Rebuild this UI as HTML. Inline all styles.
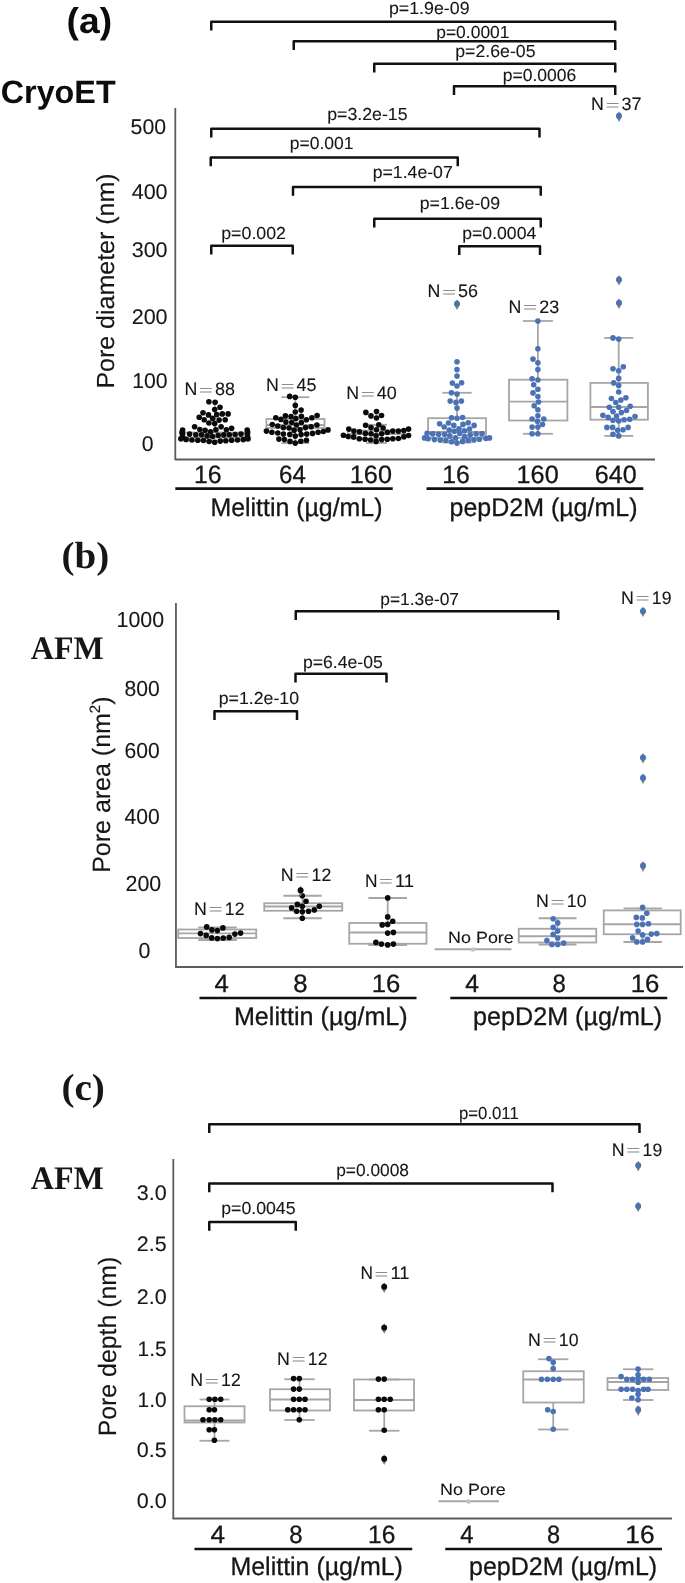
<!DOCTYPE html>
<html lang="en"><head><meta charset="utf-8"><title>Pore statistics</title>
<style>
html,body{margin:0;padding:0;background:#fff;}
body{width:685px;height:1583px;overflow:hidden;}
svg{display:block;will-change:transform;}
text{text-rendering:geometricPrecision;}
</style></head><body>
<svg width="685" height="1583" viewBox="0 0 685 1583">
<rect width="685" height="1583" fill="#fff"/>
<g id="panel-a">
<text x="66.64" y="32.80" font-family='"Liberation Sans", sans-serif' font-size="35.8" font-weight="bold" fill="#0c0c0c" textLength="45.51" lengthAdjust="spacingAndGlyphs">(a)</text>
<text x="0.74" y="103.40" font-family='"Liberation Sans", sans-serif' font-size="32.3" font-weight="bold" fill="#0c0c0c" textLength="114.88" lengthAdjust="spacingAndGlyphs">CryoET</text>
<line x1="175.30" y1="108.00" x2="175.30" y2="460.00" stroke="#5c5c5c" stroke-width="1.8"/>
<line x1="175.00" y1="459.50" x2="655.00" y2="459.50" stroke="#5c5c5c" stroke-width="1.8"/>
<text x="130.57" y="134.40" font-family='"Liberation Sans", sans-serif' font-size="21.3" fill="#161616" stroke="#161616" stroke-width="0.1" textLength="35.54" lengthAdjust="spacingAndGlyphs">500</text>
<text x="131.67" y="198.80" font-family='"Liberation Sans", sans-serif' font-size="21.3" fill="#161616" stroke="#161616" stroke-width="0.1" textLength="35.94" lengthAdjust="spacingAndGlyphs">400</text>
<text x="131.67" y="256.50" font-family='"Liberation Sans", sans-serif' font-size="21.3" fill="#161616" stroke="#161616" stroke-width="0.1" textLength="35.94" lengthAdjust="spacingAndGlyphs">300</text>
<text x="131.67" y="323.70" font-family='"Liberation Sans", sans-serif' font-size="21.3" fill="#161616" stroke="#161616" stroke-width="0.1" textLength="35.94" lengthAdjust="spacingAndGlyphs">200</text>
<text x="132.21" y="387.80" font-family='"Liberation Sans", sans-serif' font-size="21.3" fill="#161616" stroke="#161616" stroke-width="0.1" textLength="35.41" lengthAdjust="spacingAndGlyphs">100</text>
<text x="141.67" y="451.20" font-family='"Liberation Sans", sans-serif' font-size="21.3" fill="#161616" stroke="#161616" stroke-width="0.1" textLength="11.84" lengthAdjust="spacingAndGlyphs">0</text>
<text transform="translate(113.6 388.6) rotate(-90)" font-family='"Liberation Sans", sans-serif' font-size="24.7" fill="#161616" stroke="#161616" stroke-width="0.15" textLength="215.2" lengthAdjust="spacingAndGlyphs">Pore diameter (nm)</text>
<path d="M211.25 30.50 V21.75 H615.25 V30.50" fill="none" stroke="#111" stroke-width="2.5" stroke-linejoin="round"/>
<path d="M293.75 50.00 V41.25 H615.25 V50.00" fill="none" stroke="#111" stroke-width="2.5" stroke-linejoin="round"/>
<path d="M374.25 72.50 V63.75 H615.25 V72.50" fill="none" stroke="#111" stroke-width="2.5" stroke-linejoin="round"/>
<path d="M454.00 95.00 V86.25 H615.25 V95.00" fill="none" stroke="#111" stroke-width="2.5" stroke-linejoin="round"/>
<path d="M211.25 137.50 V128.75 H539.50 V137.50" fill="none" stroke="#111" stroke-width="2.5" stroke-linejoin="round"/>
<path d="M210.75 166.25 V157.50 H457.75 V166.25" fill="none" stroke="#111" stroke-width="2.5" stroke-linejoin="round"/>
<path d="M293.00 195.75 V187.00 H540.75 V195.75" fill="none" stroke="#111" stroke-width="2.5" stroke-linejoin="round"/>
<path d="M374.25 227.50 V218.75 H540.75 V227.50" fill="none" stroke="#111" stroke-width="2.5" stroke-linejoin="round"/>
<path d="M211.25 254.50 V245.75 H292.75 V254.50" fill="none" stroke="#111" stroke-width="2.5" stroke-linejoin="round"/>
<path d="M459.25 255.00 V246.25 H540.00 V255.00" fill="none" stroke="#111" stroke-width="2.5" stroke-linejoin="round"/>
<text x="388.97" y="13.75" font-family='"Liberation Sans", sans-serif' font-size="17.4" fill="#161616" stroke="#161616" stroke-width="0.1" textLength="80.55" lengthAdjust="spacingAndGlyphs">p=1.9e-09</text>
<text x="436.22" y="37.50" font-family='"Liberation Sans", sans-serif' font-size="17.4" fill="#161616" stroke="#161616" stroke-width="0.1" textLength="73.30" lengthAdjust="spacingAndGlyphs">p=0.0001</text>
<text x="455.22" y="57.00" font-family='"Liberation Sans", sans-serif' font-size="17.4" fill="#161616" stroke="#161616" stroke-width="0.1" textLength="80.30" lengthAdjust="spacingAndGlyphs">p=2.6e-05</text>
<text x="502.72" y="81.00" font-family='"Liberation Sans", sans-serif' font-size="17.4" fill="#161616" stroke="#161616" stroke-width="0.1" textLength="73.55" lengthAdjust="spacingAndGlyphs">p=0.0006</text>
<text x="327.22" y="119.50" font-family='"Liberation Sans", sans-serif' font-size="17.4" fill="#161616" stroke="#161616" stroke-width="0.1" textLength="80.30" lengthAdjust="spacingAndGlyphs">p=3.2e-15</text>
<text x="289.72" y="148.75" font-family='"Liberation Sans", sans-serif' font-size="17.4" fill="#161616" stroke="#161616" stroke-width="0.1" textLength="63.80" lengthAdjust="spacingAndGlyphs">p=0.001</text>
<text x="372.72" y="177.50" font-family='"Liberation Sans", sans-serif' font-size="17.4" fill="#161616" stroke="#161616" stroke-width="0.1" textLength="80.05" lengthAdjust="spacingAndGlyphs">p=1.4e-07</text>
<text x="419.72" y="208.75" font-family='"Liberation Sans", sans-serif' font-size="17.4" fill="#161616" stroke="#161616" stroke-width="0.1" textLength="80.30" lengthAdjust="spacingAndGlyphs">p=1.6e-09</text>
<text x="221.22" y="238.75" font-family='"Liberation Sans", sans-serif' font-size="17.4" fill="#161616" stroke="#161616" stroke-width="0.1" textLength="64.80" lengthAdjust="spacingAndGlyphs">p=0.002</text>
<text x="462.22" y="238.75" font-family='"Liberation Sans", sans-serif' font-size="17.4" fill="#161616" stroke="#161616" stroke-width="0.1" textLength="74.05" lengthAdjust="spacingAndGlyphs">p=0.0004</text>
<g stroke="#a6a6a6" stroke-width="1.8" fill="none">
<line x1="215.00" y1="403.00" x2="215.00" y2="432.50"/>
<line x1="215.00" y1="440.50" x2="215.00" y2="443.00"/>
<line x1="215.00" y1="403.00" x2="215.00" y2="403.00"/>
<line x1="215.00" y1="443.00" x2="215.00" y2="443.00"/>
<rect x="180.50" y="432.50" width="69.00" height="8.00"/>
<line x1="180.50" y1="437.50" x2="249.50" y2="437.50"/>
</g>
<g stroke="#a6a6a6" stroke-width="1.8" fill="none">
<line x1="295.30" y1="397.20" x2="295.30" y2="419.00"/>
<line x1="295.30" y1="428.00" x2="295.30" y2="443.00"/>
<line x1="281.30" y1="397.20" x2="309.30" y2="397.20"/>
<line x1="281.30" y1="443.00" x2="309.30" y2="443.00"/>
<rect x="266.40" y="419.00" width="58.10" height="9.00"/>
<line x1="266.40" y1="425.00" x2="324.50" y2="425.00"/>
</g>
<g stroke="#a6a6a6" stroke-width="1.8" fill="none">
<line x1="376.50" y1="424.80" x2="376.50" y2="430.50"/>
<line x1="376.50" y1="438.50" x2="376.50" y2="443.00"/>
<line x1="366.00" y1="424.80" x2="387.00" y2="424.80"/>
<line x1="366.00" y1="443.00" x2="387.00" y2="443.00"/>
<rect x="348.00" y="430.50" width="57.00" height="8.00"/>
<line x1="348.00" y1="434.00" x2="405.00" y2="434.00"/>
</g>
<g stroke="#a6a6a6" stroke-width="1.8" fill="none">
<line x1="457.00" y1="392.80" x2="457.00" y2="418.20"/>
<line x1="457.00" y1="438.00" x2="457.00" y2="442.50"/>
<line x1="442.30" y1="392.80" x2="471.70" y2="392.80"/>
<line x1="442.30" y1="442.50" x2="471.70" y2="442.50"/>
<rect x="428.10" y="418.20" width="57.90" height="19.80"/>
<line x1="428.10" y1="432.00" x2="486.00" y2="432.00"/>
</g>
<g stroke="#a6a6a6" stroke-width="1.8" fill="none">
<line x1="537.90" y1="321.00" x2="537.90" y2="379.70"/>
<line x1="537.90" y1="420.50" x2="537.90" y2="433.80"/>
<line x1="522.90" y1="321.00" x2="552.90" y2="321.00"/>
<line x1="522.90" y1="433.80" x2="552.90" y2="433.80"/>
<rect x="509.00" y="379.70" width="58.40" height="40.80"/>
<line x1="509.00" y1="401.70" x2="567.40" y2="401.70"/>
</g>
<g stroke="#a6a6a6" stroke-width="1.8" fill="none">
<line x1="618.70" y1="337.90" x2="618.70" y2="382.90"/>
<line x1="618.70" y1="419.70" x2="618.70" y2="435.90"/>
<line x1="604.20" y1="337.90" x2="633.20" y2="337.90"/>
<line x1="604.20" y1="435.90" x2="633.20" y2="435.90"/>
<rect x="590.40" y="382.90" width="57.50" height="36.80"/>
<line x1="590.40" y1="407.00" x2="647.90" y2="407.00"/>
</g>
<g fill="#0a0a0a">
<circle cx="208.9" cy="401.8" r="2.8"/>
<circle cx="215.1" cy="402.2" r="2.8"/>
<circle cx="220.0" cy="407.3" r="2.8"/>
<circle cx="214.7" cy="409.6" r="2.8"/>
<circle cx="203.0" cy="412.8" r="2.8"/>
<circle cx="208.5" cy="414.9" r="2.8"/>
<circle cx="216.8" cy="414.6" r="2.8"/>
<circle cx="222.3" cy="413.9" r="2.8"/>
<circle cx="228.1" cy="413.9" r="2.8"/>
<circle cx="199.2" cy="417.2" r="2.8"/>
<circle cx="204.2" cy="419.8" r="2.8"/>
<circle cx="212.6" cy="418.4" r="2.8"/>
<circle cx="219.1" cy="420.1" r="2.8"/>
<circle cx="225.2" cy="419.8" r="2.8"/>
<circle cx="208.9" cy="423.0" r="2.8"/>
<circle cx="214.7" cy="423.6" r="2.8"/>
<circle cx="194.6" cy="426.8" r="2.8"/>
<circle cx="221.1" cy="426.8" r="2.8"/>
<circle cx="231.6" cy="428.3" r="2.8"/>
<circle cx="182.6" cy="430.0" r="2.8"/>
<circle cx="199.8" cy="429.5" r="2.8"/>
<circle cx="205.1" cy="430.3" r="2.8"/>
<circle cx="210.6" cy="431.8" r="2.8"/>
<circle cx="215.9" cy="429.8" r="2.8"/>
<circle cx="226.4" cy="429.8" r="2.8"/>
<circle cx="247.2" cy="430.0" r="2.8"/>
<circle cx="182.6" cy="434.1" r="2.8"/>
<circle cx="189.6" cy="434.1" r="2.8"/>
<circle cx="195.8" cy="434.7" r="2.8"/>
<circle cx="201.6" cy="434.7" r="2.8"/>
<circle cx="207.1" cy="435.9" r="2.8"/>
<circle cx="212.6" cy="436.5" r="2.8"/>
<circle cx="218.2" cy="435.3" r="2.8"/>
<circle cx="223.8" cy="434.9" r="2.8"/>
<circle cx="229.3" cy="434.7" r="2.8"/>
<circle cx="235.1" cy="434.5" r="2.8"/>
<circle cx="241.0" cy="434.1" r="2.8"/>
<circle cx="247.2" cy="434.1" r="2.8"/>
<circle cx="180.8" cy="438.8" r="2.8"/>
<circle cx="186.1" cy="439.4" r="2.8"/>
<circle cx="191.9" cy="440.0" r="2.8"/>
<circle cx="197.8" cy="440.3" r="2.8"/>
<circle cx="203.4" cy="440.5" r="2.8"/>
<circle cx="209.1" cy="441.5" r="2.8"/>
<circle cx="214.7" cy="442.3" r="2.8"/>
<circle cx="220.3" cy="441.1" r="2.8"/>
<circle cx="225.8" cy="440.8" r="2.8"/>
<circle cx="231.6" cy="440.3" r="2.8"/>
<circle cx="237.5" cy="440.0" r="2.8"/>
<circle cx="243.3" cy="439.6" r="2.8"/>
<circle cx="248.0" cy="438.8" r="2.8"/>
<circle cx="182.6" cy="437.3" r="2.8"/>
<circle cx="247.4" cy="437.0" r="2.8"/>
<circle cx="182.0" cy="432.4" r="2.8"/>
<circle cx="247.6" cy="432.1" r="2.8"/>
</g>
<g fill="#0a0a0a">
<circle cx="289.7" cy="396.4" r="2.8"/>
<circle cx="295.3" cy="397.2" r="2.8"/>
<circle cx="295.3" cy="405.4" r="2.8"/>
<circle cx="301.1" cy="410.1" r="2.8"/>
<circle cx="295.3" cy="412.0" r="2.8"/>
<circle cx="275.8" cy="417.8" r="2.8"/>
<circle cx="280.9" cy="419.4" r="2.8"/>
<circle cx="285.4" cy="415.9" r="2.8"/>
<circle cx="291.0" cy="416.6" r="2.8"/>
<circle cx="295.9" cy="418.6" r="2.8"/>
<circle cx="301.4" cy="416.3" r="2.8"/>
<circle cx="306.4" cy="419.8" r="2.8"/>
<circle cx="311.9" cy="417.8" r="2.8"/>
<circle cx="317.1" cy="415.5" r="2.8"/>
<circle cx="272.3" cy="424.5" r="2.8"/>
<circle cx="277.8" cy="426.0" r="2.8"/>
<circle cx="283.4" cy="427.6" r="2.8"/>
<circle cx="285.9" cy="422.1" r="2.8"/>
<circle cx="289.1" cy="428.0" r="2.8"/>
<circle cx="291.8" cy="422.5" r="2.8"/>
<circle cx="296.5" cy="425.0" r="2.8"/>
<circle cx="301.4" cy="422.5" r="2.8"/>
<circle cx="294.1" cy="430.3" r="2.8"/>
<circle cx="300.0" cy="429.7" r="2.8"/>
<circle cx="305.5" cy="427.6" r="2.8"/>
<circle cx="311.1" cy="426.8" r="2.8"/>
<circle cx="316.9" cy="425.0" r="2.8"/>
<circle cx="266.4" cy="431.1" r="2.8"/>
<circle cx="271.9" cy="432.3" r="2.8"/>
<circle cx="277.8" cy="433.0" r="2.8"/>
<circle cx="283.4" cy="434.1" r="2.8"/>
<circle cx="289.8" cy="434.4" r="2.8"/>
<circle cx="295.3" cy="436.1" r="2.8"/>
<circle cx="301.1" cy="434.6" r="2.8"/>
<circle cx="306.7" cy="434.1" r="2.8"/>
<circle cx="312.5" cy="433.4" r="2.8"/>
<circle cx="318.1" cy="432.3" r="2.8"/>
<circle cx="323.3" cy="431.5" r="2.8"/>
<circle cx="328.0" cy="429.9" r="2.8"/>
<circle cx="278.9" cy="439.1" r="2.8"/>
<circle cx="284.4" cy="439.6" r="2.8"/>
<circle cx="290.0" cy="441.4" r="2.8"/>
<circle cx="295.3" cy="443.1" r="2.8"/>
<circle cx="300.8" cy="441.2" r="2.8"/>
<circle cx="306.4" cy="440.2" r="2.8"/>
</g>
<g fill="#0a0a0a">
<circle cx="365.9" cy="412.4" r="2.8"/>
<circle cx="376.5" cy="411.6" r="2.8"/>
<circle cx="371.0" cy="415.9" r="2.8"/>
<circle cx="381.5" cy="415.5" r="2.8"/>
<circle cx="376.5" cy="418.0" r="2.8"/>
<circle cx="365.6" cy="425.3" r="2.8"/>
<circle cx="378.8" cy="424.8" r="2.8"/>
<circle cx="371.0" cy="427.6" r="2.8"/>
<circle cx="383.1" cy="428.0" r="2.8"/>
<circle cx="376.5" cy="429.7" r="2.8"/>
<circle cx="348.8" cy="429.1" r="2.8"/>
<circle cx="353.9" cy="431.1" r="2.8"/>
<circle cx="359.5" cy="431.8" r="2.8"/>
<circle cx="365.4" cy="433.4" r="2.8"/>
<circle cx="371.0" cy="433.8" r="2.8"/>
<circle cx="381.7" cy="433.8" r="2.8"/>
<circle cx="387.3" cy="432.3" r="2.8"/>
<circle cx="392.8" cy="431.1" r="2.8"/>
<circle cx="398.4" cy="431.1" r="2.8"/>
<circle cx="403.9" cy="430.6" r="2.8"/>
<circle cx="408.6" cy="429.1" r="2.8"/>
<circle cx="343.4" cy="435.3" r="2.8"/>
<circle cx="348.1" cy="436.5" r="2.8"/>
<circle cx="353.7" cy="436.9" r="2.8"/>
<circle cx="359.3" cy="438.8" r="2.8"/>
<circle cx="365.1" cy="439.3" r="2.8"/>
<circle cx="370.6" cy="440.0" r="2.8"/>
<circle cx="376.1" cy="441.4" r="2.8"/>
<circle cx="376.1" cy="435.8" r="2.8"/>
<circle cx="381.7" cy="439.6" r="2.8"/>
<circle cx="387.3" cy="439.3" r="2.8"/>
<circle cx="392.8" cy="438.8" r="2.8"/>
<circle cx="398.4" cy="438.5" r="2.8"/>
<circle cx="403.9" cy="436.7" r="2.8"/>
<circle cx="408.6" cy="435.5" r="2.8"/>
</g>
<g fill="#4a72b4">
<circle cx="457.0" cy="361.7" r="2.8"/>
<circle cx="457.0" cy="369.6" r="2.8"/>
<circle cx="457.0" cy="376.1" r="2.8"/>
<circle cx="452.4" cy="383.1" r="2.8"/>
<circle cx="461.6" cy="382.7" r="2.8"/>
<circle cx="457.0" cy="386.0" r="2.8"/>
<circle cx="451.5" cy="392.8" r="2.8"/>
<circle cx="457.0" cy="394.1" r="2.8"/>
<circle cx="450.2" cy="401.1" r="2.8"/>
<circle cx="461.4" cy="401.1" r="2.8"/>
<circle cx="456.0" cy="402.4" r="2.8"/>
<circle cx="457.0" cy="408.1" r="2.8"/>
<circle cx="451.5" cy="417.8" r="2.8"/>
<circle cx="457.0" cy="418.2" r="2.8"/>
<circle cx="462.6" cy="417.5" r="2.8"/>
<circle cx="439.6" cy="423.7" r="2.8"/>
<circle cx="448.5" cy="423.0" r="2.8"/>
<circle cx="444.2" cy="427.0" r="2.8"/>
<circle cx="453.8" cy="425.4" r="2.8"/>
<circle cx="463.0" cy="424.4" r="2.8"/>
<circle cx="468.2" cy="422.8" r="2.8"/>
<circle cx="474.1" cy="425.4" r="2.8"/>
<circle cx="449.2" cy="430.0" r="2.8"/>
<circle cx="454.4" cy="431.3" r="2.8"/>
<circle cx="459.0" cy="428.7" r="2.8"/>
<circle cx="464.3" cy="430.7" r="2.8"/>
<circle cx="469.5" cy="429.0" r="2.8"/>
<circle cx="427.1" cy="433.3" r="2.8"/>
<circle cx="432.7" cy="433.9" r="2.8"/>
<circle cx="438.6" cy="434.3" r="2.8"/>
<circle cx="444.6" cy="434.3" r="2.8"/>
<circle cx="449.8" cy="435.9" r="2.8"/>
<circle cx="459.7" cy="433.5" r="2.8"/>
<circle cx="464.7" cy="436.6" r="2.8"/>
<circle cx="470.2" cy="434.9" r="2.8"/>
<circle cx="476.1" cy="433.9" r="2.8"/>
<circle cx="482.0" cy="433.9" r="2.8"/>
<circle cx="424.5" cy="437.9" r="2.8"/>
<circle cx="428.1" cy="438.8" r="2.8"/>
<circle cx="434.4" cy="439.6" r="2.8"/>
<circle cx="440.2" cy="440.1" r="2.8"/>
<circle cx="445.9" cy="440.5" r="2.8"/>
<circle cx="451.5" cy="441.8" r="2.8"/>
<circle cx="457.0" cy="443.1" r="2.8"/>
<circle cx="455.5" cy="437.9" r="2.8"/>
<circle cx="462.6" cy="441.4" r="2.8"/>
<circle cx="468.2" cy="440.5" r="2.8"/>
<circle cx="473.9" cy="439.9" r="2.8"/>
<circle cx="479.4" cy="439.2" r="2.8"/>
<circle cx="485.9" cy="438.5" r="2.8"/>
<circle cx="489.5" cy="437.9" r="2.8"/>
</g>
<path d="M457.0 299.3 L460.0 304.6 L457.0 309.9 L454.0 304.6Z" fill="#7c7c7c"/>
<circle cx="457.0" cy="303.7" r="2.95" fill="#4a72b4"/>
<g fill="#4a72b4">
<circle cx="537.9" cy="321.1" r="2.8"/>
<circle cx="537.9" cy="348.7" r="2.8"/>
<circle cx="533.0" cy="359.1" r="2.8"/>
<circle cx="537.9" cy="362.7" r="2.8"/>
<circle cx="537.9" cy="369.6" r="2.8"/>
<circle cx="532.1" cy="378.7" r="2.8"/>
<circle cx="537.9" cy="380.0" r="2.8"/>
<circle cx="533.7" cy="384.8" r="2.8"/>
<circle cx="537.9" cy="389.2" r="2.8"/>
<circle cx="533.0" cy="392.9" r="2.8"/>
<circle cx="537.9" cy="396.5" r="2.8"/>
<circle cx="538.5" cy="402.0" r="2.8"/>
<circle cx="534.2" cy="405.7" r="2.8"/>
<circle cx="537.9" cy="409.7" r="2.8"/>
<circle cx="537.9" cy="415.8" r="2.8"/>
<circle cx="532.1" cy="419.0" r="2.8"/>
<circle cx="543.8" cy="419.0" r="2.8"/>
<circle cx="537.4" cy="421.3" r="2.8"/>
<circle cx="542.5" cy="424.5" r="2.8"/>
<circle cx="532.1" cy="427.1" r="2.8"/>
<circle cx="537.9" cy="427.1" r="2.8"/>
<circle cx="532.1" cy="433.8" r="2.8"/>
<circle cx="537.9" cy="433.8" r="2.8"/>
</g>
<g fill="#4a72b4">
<circle cx="613.0" cy="337.9" r="2.8"/>
<circle cx="618.7" cy="339.1" r="2.8"/>
<circle cx="613.0" cy="368.8" r="2.8"/>
<circle cx="618.7" cy="370.7" r="2.8"/>
<circle cx="623.3" cy="366.8" r="2.8"/>
<circle cx="618.7" cy="378.4" r="2.8"/>
<circle cx="613.7" cy="382.9" r="2.8"/>
<circle cx="618.7" cy="385.6" r="2.8"/>
<circle cx="618.7" cy="392.0" r="2.8"/>
<circle cx="611.4" cy="398.5" r="2.8"/>
<circle cx="615.8" cy="402.5" r="2.8"/>
<circle cx="620.9" cy="400.1" r="2.8"/>
<circle cx="625.9" cy="397.7" r="2.8"/>
<circle cx="609.3" cy="407.3" r="2.8"/>
<circle cx="618.7" cy="407.3" r="2.8"/>
<circle cx="630.2" cy="406.2" r="2.8"/>
<circle cx="613.0" cy="411.6" r="2.8"/>
<circle cx="621.4" cy="412.6" r="2.8"/>
<circle cx="626.5" cy="410.5" r="2.8"/>
<circle cx="602.9" cy="415.3" r="2.8"/>
<circle cx="608.1" cy="417.4" r="2.8"/>
<circle cx="616.6" cy="416.1" r="2.8"/>
<circle cx="613.0" cy="420.2" r="2.8"/>
<circle cx="618.7" cy="421.0" r="2.8"/>
<circle cx="624.1" cy="419.7" r="2.8"/>
<circle cx="629.7" cy="419.3" r="2.8"/>
<circle cx="635.0" cy="416.5" r="2.8"/>
<circle cx="606.9" cy="427.4" r="2.8"/>
<circle cx="612.6" cy="427.4" r="2.8"/>
<circle cx="617.7" cy="430.3" r="2.8"/>
<circle cx="623.0" cy="429.8" r="2.8"/>
<circle cx="628.1" cy="427.4" r="2.8"/>
<circle cx="613.0" cy="434.3" r="2.8"/>
<circle cx="618.7" cy="435.9" r="2.8"/>
</g>
<path d="M619.0 111.3 L622.0 116.6 L619.0 121.9 L616.0 116.6Z" fill="#7c7c7c"/>
<circle cx="619.0" cy="115.7" r="2.95" fill="#4a72b4"/>
<path d="M619.0 275.0 L622.0 280.3 L619.0 285.6 L616.0 280.3Z" fill="#7c7c7c"/>
<circle cx="619.0" cy="279.4" r="2.95" fill="#4a72b4"/>
<path d="M619.0 298.3 L622.0 303.6 L619.0 308.9 L616.0 303.6Z" fill="#7c7c7c"/>
<circle cx="619.0" cy="302.7" r="2.95" fill="#4a72b4"/>
<text x="184.38" y="394.90" font-family='"Liberation Sans", sans-serif' font-size="18.0" fill="#161616" stroke="#161616" stroke-width="0.1" textLength="12.84" lengthAdjust="spacingAndGlyphs">N</text>
<text x="198.89" y="394.60" font-family='"Liberation Sans", sans-serif' font-size="14.4" fill="#8c8c8c" textLength="14.23" lengthAdjust="spacingAndGlyphs">=</text>
<text x="214.95" y="394.90" font-family='"Liberation Sans", sans-serif' font-size="18.0" fill="#161616" stroke="#161616" stroke-width="0.1" textLength="20.00" lengthAdjust="spacingAndGlyphs">88</text>
<text x="265.98" y="391.25" font-family='"Liberation Sans", sans-serif' font-size="18.0" fill="#161616" stroke="#161616" stroke-width="0.1" textLength="12.84" lengthAdjust="spacingAndGlyphs">N</text>
<text x="280.49" y="390.95" font-family='"Liberation Sans", sans-serif' font-size="14.4" fill="#8c8c8c" textLength="14.23" lengthAdjust="spacingAndGlyphs">=</text>
<text x="296.55" y="391.25" font-family='"Liberation Sans", sans-serif' font-size="18.0" fill="#161616" stroke="#161616" stroke-width="0.1" textLength="20.00" lengthAdjust="spacingAndGlyphs">45</text>
<text x="346.28" y="399.30" font-family='"Liberation Sans", sans-serif' font-size="18.0" fill="#161616" stroke="#161616" stroke-width="0.1" textLength="12.84" lengthAdjust="spacingAndGlyphs">N</text>
<text x="360.79" y="399.00" font-family='"Liberation Sans", sans-serif' font-size="14.4" fill="#8c8c8c" textLength="14.23" lengthAdjust="spacingAndGlyphs">=</text>
<text x="376.85" y="399.30" font-family='"Liberation Sans", sans-serif' font-size="18.0" fill="#161616" stroke="#161616" stroke-width="0.1" textLength="20.00" lengthAdjust="spacingAndGlyphs">40</text>
<text x="427.48" y="297.00" font-family='"Liberation Sans", sans-serif' font-size="18.0" fill="#161616" stroke="#161616" stroke-width="0.1" textLength="12.84" lengthAdjust="spacingAndGlyphs">N</text>
<text x="441.99" y="296.70" font-family='"Liberation Sans", sans-serif' font-size="14.4" fill="#8c8c8c" textLength="14.23" lengthAdjust="spacingAndGlyphs">=</text>
<text x="458.05" y="297.00" font-family='"Liberation Sans", sans-serif' font-size="18.0" fill="#161616" stroke="#161616" stroke-width="0.1" textLength="20.00" lengthAdjust="spacingAndGlyphs">56</text>
<text x="508.58" y="312.50" font-family='"Liberation Sans", sans-serif' font-size="18.0" fill="#161616" stroke="#161616" stroke-width="0.1" textLength="12.84" lengthAdjust="spacingAndGlyphs">N</text>
<text x="523.09" y="312.20" font-family='"Liberation Sans", sans-serif' font-size="14.4" fill="#8c8c8c" textLength="14.23" lengthAdjust="spacingAndGlyphs">=</text>
<text x="539.15" y="312.50" font-family='"Liberation Sans", sans-serif' font-size="18.0" fill="#161616" stroke="#161616" stroke-width="0.1" textLength="20.00" lengthAdjust="spacingAndGlyphs">23</text>
<text x="590.98" y="110.00" font-family='"Liberation Sans", sans-serif' font-size="18.0" fill="#161616" stroke="#161616" stroke-width="0.1" textLength="12.84" lengthAdjust="spacingAndGlyphs">N</text>
<text x="605.49" y="109.70" font-family='"Liberation Sans", sans-serif' font-size="14.4" fill="#8c8c8c" textLength="14.23" lengthAdjust="spacingAndGlyphs">=</text>
<text x="621.55" y="110.00" font-family='"Liberation Sans", sans-serif' font-size="18.0" fill="#161616" stroke="#161616" stroke-width="0.1" textLength="20.00" lengthAdjust="spacingAndGlyphs">37</text>
<text x="194.08" y="483.00" font-family='"Liberation Sans", sans-serif' font-size="25.2" fill="#161616" stroke="#161616" stroke-width="0.3" textLength="27.58" lengthAdjust="spacingAndGlyphs">16</text>
<text x="279.09" y="483.00" font-family='"Liberation Sans", sans-serif' font-size="25.2" fill="#161616" stroke="#161616" stroke-width="0.3" textLength="26.82" lengthAdjust="spacingAndGlyphs">64</text>
<text x="349.83" y="483.00" font-family='"Liberation Sans", sans-serif' font-size="25.2" fill="#161616" stroke="#161616" stroke-width="0.3" textLength="42.08" lengthAdjust="spacingAndGlyphs">160</text>
<text x="442.33" y="483.00" font-family='"Liberation Sans", sans-serif' font-size="25.2" fill="#161616" stroke="#161616" stroke-width="0.3" textLength="27.58" lengthAdjust="spacingAndGlyphs">16</text>
<text x="516.58" y="483.00" font-family='"Liberation Sans", sans-serif' font-size="25.2" fill="#161616" stroke="#161616" stroke-width="0.3" textLength="42.08" lengthAdjust="spacingAndGlyphs">160</text>
<text x="594.84" y="483.00" font-family='"Liberation Sans", sans-serif' font-size="25.2" fill="#161616" stroke="#161616" stroke-width="0.3" textLength="41.82" lengthAdjust="spacingAndGlyphs">640</text>
<line x1="175.30" y1="488.60" x2="392.75" y2="488.60" stroke="#111" stroke-width="2.6"/>
<line x1="426.50" y1="488.60" x2="643.30" y2="488.60" stroke="#111" stroke-width="2.6"/>
<text x="210.43" y="515.90" font-family='"Liberation Sans", sans-serif' font-size="25.6" fill="#161616" stroke="#161616" stroke-width="0.3" textLength="172.06" lengthAdjust="spacingAndGlyphs">Melittin (µg/mL)</text>
<text x="449.56" y="515.90" font-family='"Liberation Sans", sans-serif' font-size="25.6" fill="#161616" stroke="#161616" stroke-width="0.3" textLength="187.93" lengthAdjust="spacingAndGlyphs">pepD2M (µg/mL)</text>
</g>
<g id="panel-b">
<text x="61.45" y="567.50" font-family='"Liberation Serif", serif' font-size="38" font-weight="bold" fill="#161616" textLength="47.72" lengthAdjust="spacingAndGlyphs">(b)</text>
<text x="30.85" y="659.30" font-family='"Liberation Serif", serif' font-size="33" font-weight="bold" fill="#161616" textLength="72.88" lengthAdjust="spacingAndGlyphs">AFM</text>
<line x1="175.95" y1="603.00" x2="175.95" y2="967.50" stroke="#5c5c5c" stroke-width="1.8"/>
<line x1="175.30" y1="967.00" x2="683.00" y2="967.00" stroke="#5c5c5c" stroke-width="1.8"/>
<text x="116.55" y="627.20" font-family='"Liberation Sans", sans-serif' font-size="21.8" fill="#161616" stroke="#161616" stroke-width="0.1" textLength="47.49" lengthAdjust="spacingAndGlyphs">1000</text>
<text x="124.54" y="696.20" font-family='"Liberation Sans", sans-serif' font-size="21.8" fill="#161616" stroke="#161616" stroke-width="0.1" textLength="35.20" lengthAdjust="spacingAndGlyphs">800</text>
<text x="124.54" y="758.00" font-family='"Liberation Sans", sans-serif' font-size="21.8" fill="#161616" stroke="#161616" stroke-width="0.1" textLength="35.20" lengthAdjust="spacingAndGlyphs">600</text>
<text x="124.54" y="824.00" font-family='"Liberation Sans", sans-serif' font-size="21.8" fill="#161616" stroke="#161616" stroke-width="0.1" textLength="35.20" lengthAdjust="spacingAndGlyphs">400</text>
<text x="125.54" y="891.00" font-family='"Liberation Sans", sans-serif' font-size="21.8" fill="#161616" stroke="#161616" stroke-width="0.1" textLength="35.70" lengthAdjust="spacingAndGlyphs">200</text>
<text x="138.54" y="958.20" font-family='"Liberation Sans", sans-serif' font-size="21.8" fill="#161616" stroke="#161616" stroke-width="0.1" textLength="11.90" lengthAdjust="spacingAndGlyphs">0</text>
<text transform="translate(110.4 872.8) rotate(-90)" font-family='"Liberation Sans", sans-serif' font-size="25" fill="#161616" stroke="#161616" stroke-width="0.15" textLength="176.3" lengthAdjust="spacingAndGlyphs">Pore area (nm<tspan font-size="15" dy="-10.5">2</tspan><tspan dy="10.5">)</tspan></text>
<path d="M295.75 620.00 V611.25 H558.25 V620.00" fill="none" stroke="#111" stroke-width="2.5" stroke-linejoin="round"/>
<path d="M295.50 682.50 V673.75 H386.50 V682.50" fill="none" stroke="#111" stroke-width="2.5" stroke-linejoin="round"/>
<path d="M214.50 720.00 V711.25 H297.00 V720.00" fill="none" stroke="#111" stroke-width="2.5" stroke-linejoin="round"/>
<text x="380.22" y="605.00" font-family='"Liberation Sans", sans-serif' font-size="17.4" fill="#161616" stroke="#161616" stroke-width="0.1" textLength="78.80" lengthAdjust="spacingAndGlyphs">p=1.3e-07</text>
<text x="302.97" y="668.00" font-family='"Liberation Sans", sans-serif' font-size="17.4" fill="#161616" stroke="#161616" stroke-width="0.1" textLength="79.80" lengthAdjust="spacingAndGlyphs">p=6.4e-05</text>
<text x="218.72" y="704.25" font-family='"Liberation Sans", sans-serif' font-size="17.4" fill="#161616" stroke="#161616" stroke-width="0.1" textLength="80.30" lengthAdjust="spacingAndGlyphs">p=1.2e-10</text>
<g stroke="#a6a6a6" stroke-width="1.8" fill="none">
<line x1="217.50" y1="927.50" x2="217.50" y2="929.50"/>
<line x1="217.50" y1="938.00" x2="217.50" y2="940.00"/>
<line x1="198.20" y1="927.50" x2="236.80" y2="927.50"/>
<line x1="198.20" y1="940.00" x2="236.80" y2="940.00"/>
<rect x="178.25" y="929.50" width="78.00" height="8.50"/>
<line x1="178.25" y1="933.30" x2="256.25" y2="933.30"/>
</g>
<g stroke="#a6a6a6" stroke-width="1.8" fill="none">
<line x1="302.60" y1="895.75" x2="302.60" y2="903.25"/>
<line x1="302.60" y1="910.75" x2="302.60" y2="918.25"/>
<line x1="283.40" y1="895.75" x2="321.80" y2="895.75"/>
<line x1="283.40" y1="918.25" x2="321.80" y2="918.25"/>
<rect x="264.25" y="903.25" width="78.00" height="7.50"/>
<line x1="264.25" y1="906.50" x2="342.25" y2="906.50"/>
</g>
<g stroke="#a6a6a6" stroke-width="1.8" fill="none">
<line x1="387.70" y1="898.00" x2="387.70" y2="923.00"/>
<line x1="387.70" y1="943.75" x2="387.70" y2="945.00"/>
<line x1="368.40" y1="898.00" x2="407.00" y2="898.00"/>
<line x1="368.40" y1="945.00" x2="407.00" y2="945.00"/>
<rect x="349.25" y="923.00" width="77.25" height="20.75"/>
<line x1="349.25" y1="932.50" x2="426.50" y2="932.50"/>
</g>
<g stroke="#a6a6a6" stroke-width="1.8" fill="none">
<line x1="557.50" y1="918.25" x2="557.50" y2="928.75"/>
<line x1="557.50" y1="942.50" x2="557.50" y2="944.50"/>
<line x1="538.50" y1="918.25" x2="576.50" y2="918.25"/>
<line x1="538.50" y1="944.50" x2="576.50" y2="944.50"/>
<rect x="518.75" y="928.75" width="77.50" height="13.75"/>
<line x1="518.75" y1="936.25" x2="596.25" y2="936.25"/>
</g>
<g stroke="#a6a6a6" stroke-width="1.8" fill="none">
<line x1="642.70" y1="908.40" x2="642.70" y2="910.40"/>
<line x1="642.70" y1="934.25" x2="642.70" y2="942.00"/>
<line x1="623.50" y1="908.40" x2="661.90" y2="908.40"/>
<line x1="623.50" y1="942.00" x2="661.90" y2="942.00"/>
<rect x="603.75" y="910.40" width="76.95" height="23.85"/>
<line x1="603.75" y1="924.25" x2="680.70" y2="924.25"/>
</g>
<line x1="434.60" y1="949.30" x2="511.50" y2="949.30" stroke="#a6a6a6" stroke-width="2.0"/>
<circle cx="473" cy="949.5" r="2.3" fill="#c2c2c2"/>
<text x="448.12" y="942.50" font-family='"Liberation Sans", sans-serif' font-size="16.2" fill="#161616" stroke="#161616" stroke-width="0.1" textLength="65.68" lengthAdjust="spacingAndGlyphs">No Pore</text>
<g fill="#0a0a0a">
<circle cx="206.7" cy="926.9" r="2.8"/>
<circle cx="211.9" cy="929.9" r="2.8"/>
<circle cx="217.4" cy="930.6" r="2.8"/>
<circle cx="222.9" cy="927.9" r="2.8"/>
<circle cx="200.5" cy="933.6" r="2.8"/>
<circle cx="206.2" cy="935.4" r="2.8"/>
<circle cx="211.7" cy="937.9" r="2.8"/>
<circle cx="217.4" cy="938.6" r="2.8"/>
<circle cx="223.2" cy="938.1" r="2.8"/>
<circle cx="229.2" cy="937.4" r="2.8"/>
<circle cx="234.9" cy="934.1" r="2.8"/>
<circle cx="240.6" cy="933.1" r="2.8"/>
</g>
<g fill="#0a0a0a">
<circle cx="302.3" cy="895.7" r="2.8"/>
<circle cx="306.0" cy="901.2" r="2.8"/>
<circle cx="297.3" cy="904.4" r="2.8"/>
<circle cx="302.3" cy="906.2" r="2.8"/>
<circle cx="291.6" cy="907.9" r="2.8"/>
<circle cx="319.3" cy="906.2" r="2.8"/>
<circle cx="296.6" cy="911.2" r="2.8"/>
<circle cx="302.3" cy="911.7" r="2.8"/>
<circle cx="308.5" cy="911.2" r="2.8"/>
<circle cx="314.3" cy="909.9" r="2.8"/>
<circle cx="302.3" cy="918.2" r="2.8"/>
</g>
<path d="M300.6 885.8 L303.6 891.1 L300.6 896.4 L297.6 891.1Z" fill="#7c7c7c"/>
<circle cx="300.6" cy="890.2" r="2.95" fill="#0a0a0a"/>
<g fill="#0a0a0a">
<circle cx="387.7" cy="897.9" r="2.8"/>
<circle cx="387.7" cy="916.9" r="2.8"/>
<circle cx="392.7" cy="921.2" r="2.8"/>
<circle cx="382.2" cy="924.9" r="2.8"/>
<circle cx="387.7" cy="924.4" r="2.8"/>
<circle cx="387.7" cy="933.1" r="2.8"/>
<circle cx="393.4" cy="932.4" r="2.8"/>
<circle cx="375.9" cy="942.4" r="2.8"/>
<circle cx="381.4" cy="944.1" r="2.8"/>
<circle cx="387.7" cy="944.9" r="2.8"/>
<circle cx="393.4" cy="944.1" r="2.8"/>
</g>
<g fill="#4a72b4">
<circle cx="553.2" cy="918.7" r="2.8"/>
<circle cx="557.7" cy="922.9" r="2.8"/>
<circle cx="553.2" cy="927.4" r="2.8"/>
<circle cx="557.7" cy="931.1" r="2.8"/>
<circle cx="553.2" cy="934.4" r="2.8"/>
<circle cx="557.7" cy="938.1" r="2.8"/>
<circle cx="546.9" cy="940.6" r="2.8"/>
<circle cx="551.9" cy="944.4" r="2.8"/>
<circle cx="557.7" cy="944.4" r="2.8"/>
<circle cx="563.7" cy="943.1" r="2.8"/>
</g>
<g fill="#4a72b4">
<circle cx="642.6" cy="907.4" r="2.8"/>
<circle cx="646.8" cy="913.2" r="2.8"/>
<circle cx="636.3" cy="917.4" r="2.8"/>
<circle cx="642.3" cy="917.9" r="2.8"/>
<circle cx="636.8" cy="924.4" r="2.8"/>
<circle cx="642.6" cy="924.4" r="2.8"/>
<circle cx="648.5" cy="923.7" r="2.8"/>
<circle cx="638.1" cy="931.1" r="2.8"/>
<circle cx="642.6" cy="934.9" r="2.8"/>
<circle cx="651.3" cy="934.1" r="2.8"/>
<circle cx="656.8" cy="933.6" r="2.8"/>
<circle cx="632.6" cy="937.9" r="2.8"/>
<circle cx="647.5" cy="939.4" r="2.8"/>
<circle cx="636.8" cy="941.9" r="2.8"/>
<circle cx="642.6" cy="941.9" r="2.8"/>
</g>
<path d="M643.0 606.5 L646.0 611.8 L643.0 617.1 L640.0 611.8Z" fill="#7c7c7c"/>
<circle cx="643.0" cy="610.9" r="2.95" fill="#4a72b4"/>
<path d="M643.0 753.0 L646.0 758.3 L643.0 763.6 L640.0 758.3Z" fill="#7c7c7c"/>
<circle cx="643.0" cy="757.4" r="2.95" fill="#4a72b4"/>
<path d="M643.0 773.3 L646.0 778.6 L643.0 783.9 L640.0 778.6Z" fill="#7c7c7c"/>
<circle cx="643.0" cy="777.7" r="2.95" fill="#4a72b4"/>
<path d="M643.0 861.1 L646.0 866.4 L643.0 871.7 L640.0 866.4Z" fill="#7c7c7c"/>
<circle cx="643.0" cy="865.5" r="2.95" fill="#4a72b4"/>
<text x="193.98" y="914.75" font-family='"Liberation Sans", sans-serif' font-size="18.0" fill="#161616" stroke="#161616" stroke-width="0.1" textLength="12.84" lengthAdjust="spacingAndGlyphs">N</text>
<text x="208.49" y="914.45" font-family='"Liberation Sans", sans-serif' font-size="14.4" fill="#8c8c8c" textLength="14.23" lengthAdjust="spacingAndGlyphs">=</text>
<text x="224.87" y="914.75" font-family='"Liberation Sans", sans-serif' font-size="18.0" fill="#161616" stroke="#161616" stroke-width="0.1" textLength="19.68" lengthAdjust="spacingAndGlyphs">12</text>
<text x="280.73" y="880.50" font-family='"Liberation Sans", sans-serif' font-size="18.0" fill="#161616" stroke="#161616" stroke-width="0.1" textLength="12.84" lengthAdjust="spacingAndGlyphs">N</text>
<text x="295.24" y="880.20" font-family='"Liberation Sans", sans-serif' font-size="14.4" fill="#8c8c8c" textLength="14.23" lengthAdjust="spacingAndGlyphs">=</text>
<text x="311.62" y="880.50" font-family='"Liberation Sans", sans-serif' font-size="18.0" fill="#161616" stroke="#161616" stroke-width="0.1" textLength="19.68" lengthAdjust="spacingAndGlyphs">12</text>
<text x="364.98" y="886.75" font-family='"Liberation Sans", sans-serif' font-size="18.0" fill="#161616" stroke="#161616" stroke-width="0.1" textLength="12.51" lengthAdjust="spacingAndGlyphs">N</text>
<text x="379.06" y="886.45" font-family='"Liberation Sans", sans-serif' font-size="14.4" fill="#8c8c8c" textLength="13.82" lengthAdjust="spacingAndGlyphs">=</text>
<text x="394.95" y="886.75" font-family='"Liberation Sans", sans-serif' font-size="18.0" fill="#161616" stroke="#161616" stroke-width="0.1" textLength="19.10" lengthAdjust="spacingAndGlyphs">11</text>
<text x="535.98" y="907.25" font-family='"Liberation Sans", sans-serif' font-size="18.0" fill="#161616" stroke="#161616" stroke-width="0.1" textLength="12.84" lengthAdjust="spacingAndGlyphs">N</text>
<text x="550.49" y="906.95" font-family='"Liberation Sans", sans-serif' font-size="14.4" fill="#8c8c8c" textLength="14.23" lengthAdjust="spacingAndGlyphs">=</text>
<text x="566.87" y="907.25" font-family='"Liberation Sans", sans-serif' font-size="18.0" fill="#161616" stroke="#161616" stroke-width="0.1" textLength="19.68" lengthAdjust="spacingAndGlyphs">10</text>
<text x="620.98" y="603.50" font-family='"Liberation Sans", sans-serif' font-size="18.0" fill="#161616" stroke="#161616" stroke-width="0.1" textLength="12.84" lengthAdjust="spacingAndGlyphs">N</text>
<text x="635.49" y="603.20" font-family='"Liberation Sans", sans-serif' font-size="14.4" fill="#8c8c8c" textLength="14.23" lengthAdjust="spacingAndGlyphs">=</text>
<text x="651.87" y="603.50" font-family='"Liberation Sans", sans-serif' font-size="18.0" fill="#161616" stroke="#161616" stroke-width="0.1" textLength="19.68" lengthAdjust="spacingAndGlyphs">19</text>
<text x="214.64" y="992.30" font-family='"Liberation Sans", sans-serif' font-size="25.2" fill="#161616" stroke="#161616" stroke-width="0.3" textLength="14.32" lengthAdjust="spacingAndGlyphs">4</text>
<text x="293.34" y="992.30" font-family='"Liberation Sans", sans-serif' font-size="25.2" fill="#161616" stroke="#161616" stroke-width="0.3" textLength="14.32" lengthAdjust="spacingAndGlyphs">8</text>
<text x="371.78" y="992.30" font-family='"Liberation Sans", sans-serif' font-size="25.2" fill="#161616" stroke="#161616" stroke-width="0.3" textLength="28.58" lengthAdjust="spacingAndGlyphs">16</text>
<text x="465.14" y="992.30" font-family='"Liberation Sans", sans-serif' font-size="25.2" fill="#161616" stroke="#161616" stroke-width="0.3" textLength="13.82" lengthAdjust="spacingAndGlyphs">4</text>
<text x="552.54" y="992.30" font-family='"Liberation Sans", sans-serif' font-size="25.2" fill="#161616" stroke="#161616" stroke-width="0.3" textLength="13.32" lengthAdjust="spacingAndGlyphs">8</text>
<text x="630.78" y="992.30" font-family='"Liberation Sans", sans-serif' font-size="25.2" fill="#161616" stroke="#161616" stroke-width="0.3" textLength="28.68" lengthAdjust="spacingAndGlyphs">16</text>
<line x1="199.50" y1="998.00" x2="416.50" y2="998.00" stroke="#111" stroke-width="2.6"/>
<line x1="450.25" y1="998.00" x2="667.25" y2="998.00" stroke="#111" stroke-width="2.6"/>
<text x="233.93" y="1024.50" font-family='"Liberation Sans", sans-serif' font-size="25.6" fill="#161616" stroke="#161616" stroke-width="0.3" textLength="173.76" lengthAdjust="spacingAndGlyphs">Melittin (µg/mL)</text>
<text x="473.06" y="1024.50" font-family='"Liberation Sans", sans-serif' font-size="25.6" fill="#161616" stroke="#161616" stroke-width="0.3" textLength="189.13" lengthAdjust="spacingAndGlyphs">pepD2M (µg/mL)</text>
</g>
<g id="panel-c">
<text x="61.45" y="1100.00" font-family='"Liberation Serif", serif' font-size="38" font-weight="bold" fill="#161616" textLength="43.47" lengthAdjust="spacingAndGlyphs">(c)</text>
<text x="30.85" y="1189.30" font-family='"Liberation Serif", serif' font-size="33" font-weight="bold" fill="#161616" textLength="72.88" lengthAdjust="spacingAndGlyphs">AFM</text>
<line x1="173.30" y1="1159.00" x2="173.30" y2="1519.00" stroke="#5c5c5c" stroke-width="1.8"/>
<line x1="172.70" y1="1518.50" x2="672.00" y2="1518.50" stroke="#5c5c5c" stroke-width="1.8"/>
<text x="136.69" y="1199.90" font-family='"Liberation Sans", sans-serif' font-size="21.0" fill="#161616" stroke="#161616" stroke-width="0.1" textLength="29.91" lengthAdjust="spacingAndGlyphs">3.0</text>
<text x="136.69" y="1251.10" font-family='"Liberation Sans", sans-serif' font-size="21.0" fill="#161616" stroke="#161616" stroke-width="0.1" textLength="29.91" lengthAdjust="spacingAndGlyphs">2.5</text>
<text x="136.69" y="1303.60" font-family='"Liberation Sans", sans-serif' font-size="21.0" fill="#161616" stroke="#161616" stroke-width="0.1" textLength="29.91" lengthAdjust="spacingAndGlyphs">2.0</text>
<text x="137.54" y="1356.20" font-family='"Liberation Sans", sans-serif' font-size="21.0" fill="#161616" stroke="#161616" stroke-width="0.1" textLength="29.06" lengthAdjust="spacingAndGlyphs">1.5</text>
<text x="137.54" y="1406.70" font-family='"Liberation Sans", sans-serif' font-size="21.0" fill="#161616" stroke="#161616" stroke-width="0.1" textLength="29.06" lengthAdjust="spacingAndGlyphs">1.0</text>
<text x="136.69" y="1457.30" font-family='"Liberation Sans", sans-serif' font-size="21.0" fill="#161616" stroke="#161616" stroke-width="0.1" textLength="29.91" lengthAdjust="spacingAndGlyphs">0.5</text>
<text x="136.69" y="1507.70" font-family='"Liberation Sans", sans-serif' font-size="21.0" fill="#161616" stroke="#161616" stroke-width="0.1" textLength="29.91" lengthAdjust="spacingAndGlyphs">0.0</text>
<text transform="translate(115.8 1436.3) rotate(-90)" font-family='"Liberation Sans", sans-serif' font-size="25" fill="#161616" stroke="#161616" stroke-width="0.15" textLength="179.5" lengthAdjust="spacingAndGlyphs">Pore depth (nm)</text>
<path d="M209.25 1133.00 V1124.25 H639.50 V1133.00" fill="none" stroke="#111" stroke-width="2.5" stroke-linejoin="round"/>
<path d="M209.25 1192.20 V1183.45 H552.50 V1192.20" fill="none" stroke="#111" stroke-width="2.5" stroke-linejoin="round"/>
<path d="M209.25 1230.75 V1222.00 H295.75 V1230.75" fill="none" stroke="#111" stroke-width="2.5" stroke-linejoin="round"/>
<text x="458.97" y="1118.75" font-family='"Liberation Sans", sans-serif' font-size="17.4" fill="#161616" stroke="#161616" stroke-width="0.1" textLength="59.80" lengthAdjust="spacingAndGlyphs">p=0.011</text>
<text x="336.22" y="1176.25" font-family='"Liberation Sans", sans-serif' font-size="17.4" fill="#161616" stroke="#161616" stroke-width="0.1" textLength="72.80" lengthAdjust="spacingAndGlyphs">p=0.0008</text>
<text x="221.22" y="1213.75" font-family='"Liberation Sans", sans-serif' font-size="17.4" fill="#161616" stroke="#161616" stroke-width="0.1" textLength="74.30" lengthAdjust="spacingAndGlyphs">p=0.0045</text>
<g stroke="#a6a6a6" stroke-width="1.8" fill="none">
<line x1="214.50" y1="1399.50" x2="214.50" y2="1406.25"/>
<line x1="214.50" y1="1422.50" x2="214.50" y2="1440.75"/>
<line x1="199.50" y1="1399.50" x2="229.50" y2="1399.50"/>
<line x1="199.50" y1="1440.75" x2="229.50" y2="1440.75"/>
<rect x="184.50" y="1406.25" width="60.00" height="16.25"/>
<line x1="184.50" y1="1420.50" x2="244.50" y2="1420.50"/>
</g>
<g stroke="#a6a6a6" stroke-width="1.8" fill="none">
<line x1="299.50" y1="1379.25" x2="299.50" y2="1389.25"/>
<line x1="299.50" y1="1410.50" x2="299.50" y2="1420.00"/>
<line x1="284.30" y1="1379.25" x2="314.70" y2="1379.25"/>
<line x1="284.30" y1="1420.00" x2="314.70" y2="1420.00"/>
<rect x="270.00" y="1389.25" width="60.00" height="21.25"/>
<line x1="270.00" y1="1399.50" x2="330.00" y2="1399.50"/>
</g>
<g stroke="#a6a6a6" stroke-width="1.8" fill="none">
<line x1="384.25" y1="1410.50" x2="384.25" y2="1430.75"/>
<line x1="369.05" y1="1379.50" x2="399.45" y2="1379.50"/>
<line x1="369.05" y1="1430.75" x2="399.45" y2="1430.75"/>
<rect x="354.00" y="1379.50" width="60.00" height="31.00"/>
<line x1="354.00" y1="1400.00" x2="414.00" y2="1400.00"/>
</g>
<g stroke="#a6a6a6" stroke-width="1.8" fill="none">
<line x1="553.25" y1="1359.25" x2="553.25" y2="1371.25"/>
<line x1="553.25" y1="1402.50" x2="553.25" y2="1429.50"/>
<line x1="538.05" y1="1359.25" x2="568.45" y2="1359.25"/>
<line x1="538.05" y1="1429.50" x2="568.45" y2="1429.50"/>
<rect x="523.25" y="1371.25" width="60.50" height="31.25"/>
<line x1="523.25" y1="1379.50" x2="583.75" y2="1379.50"/>
</g>
<g stroke="#a6a6a6" stroke-width="1.8" fill="none">
<line x1="638.25" y1="1369.25" x2="638.25" y2="1378.00"/>
<line x1="638.25" y1="1390.00" x2="638.25" y2="1400.00"/>
<line x1="623.05" y1="1369.25" x2="653.45" y2="1369.25"/>
<line x1="623.05" y1="1400.00" x2="653.45" y2="1400.00"/>
<rect x="607.50" y="1378.00" width="60.75" height="12.00"/>
<line x1="607.50" y1="1382.00" x2="668.25" y2="1382.00"/>
</g>
<line x1="438.50" y1="1501.30" x2="499.00" y2="1501.30" stroke="#a6a6a6" stroke-width="2.0"/>
<circle cx="468.5" cy="1501.5" r="2.3" fill="#c2c2c2"/>
<text x="440.12" y="1495.00" font-family='"Liberation Sans", sans-serif' font-size="16.2" fill="#161616" stroke="#161616" stroke-width="0.1" textLength="65.68" lengthAdjust="spacingAndGlyphs">No Pore</text>
<g fill="#0a0a0a">
<circle cx="209.2" cy="1399.3" r="2.8"/>
<circle cx="214.9" cy="1399.3" r="2.8"/>
<circle cx="220.7" cy="1399.3" r="2.8"/>
<circle cx="209.2" cy="1409.8" r="2.8"/>
<circle cx="214.4" cy="1409.8" r="2.8"/>
<circle cx="203.0" cy="1419.8" r="2.8"/>
<circle cx="209.2" cy="1419.8" r="2.8"/>
<circle cx="214.9" cy="1419.8" r="2.8"/>
<circle cx="220.7" cy="1419.8" r="2.8"/>
<circle cx="209.2" cy="1429.8" r="2.8"/>
<circle cx="214.4" cy="1429.8" r="2.8"/>
<circle cx="214.4" cy="1440.3" r="2.8"/>
</g>
<g fill="#0a0a0a">
<circle cx="293.6" cy="1378.6" r="2.8"/>
<circle cx="299.3" cy="1378.6" r="2.8"/>
<circle cx="293.6" cy="1389.1" r="2.8"/>
<circle cx="299.3" cy="1389.1" r="2.8"/>
<circle cx="293.6" cy="1399.3" r="2.8"/>
<circle cx="299.3" cy="1399.3" r="2.8"/>
<circle cx="305.0" cy="1399.3" r="2.8"/>
<circle cx="287.8" cy="1409.8" r="2.8"/>
<circle cx="293.6" cy="1409.8" r="2.8"/>
<circle cx="299.3" cy="1409.8" r="2.8"/>
<circle cx="305.0" cy="1409.8" r="2.8"/>
<circle cx="299.3" cy="1419.8" r="2.8"/>
</g>
<g fill="#0a0a0a">
<circle cx="378.4" cy="1379.1" r="2.8"/>
<circle cx="384.2" cy="1379.1" r="2.8"/>
<circle cx="378.4" cy="1399.3" r="2.8"/>
<circle cx="384.2" cy="1399.3" r="2.8"/>
<circle cx="390.2" cy="1399.3" r="2.8"/>
<circle cx="378.4" cy="1409.8" r="2.8"/>
<circle cx="384.2" cy="1409.8" r="2.8"/>
<circle cx="384.2" cy="1430.2" r="2.8"/>
</g>
<path d="M384.2 1282.3 L387.2 1287.6 L384.2 1292.9 L381.2 1287.6Z" fill="#7c7c7c"/>
<circle cx="384.2" cy="1286.7" r="2.95" fill="#0a0a0a"/>
<path d="M384.2 1323.2 L387.2 1328.5 L384.2 1333.8 L381.2 1328.5Z" fill="#7c7c7c"/>
<circle cx="384.2" cy="1327.6" r="2.95" fill="#0a0a0a"/>
<path d="M384.2 1454.3 L387.2 1459.6 L384.2 1464.9 L381.2 1459.6Z" fill="#7c7c7c"/>
<circle cx="384.2" cy="1458.7" r="2.95" fill="#0a0a0a"/>
<g fill="#4a72b4">
<circle cx="548.9" cy="1358.6" r="2.8"/>
<circle cx="553.2" cy="1362.3" r="2.8"/>
<circle cx="553.2" cy="1368.6" r="2.8"/>
<circle cx="541.5" cy="1379.3" r="2.8"/>
<circle cx="547.4" cy="1379.3" r="2.8"/>
<circle cx="553.2" cy="1379.3" r="2.8"/>
<circle cx="558.9" cy="1379.3" r="2.8"/>
<circle cx="547.7" cy="1409.8" r="2.8"/>
<circle cx="553.2" cy="1411.5" r="2.8"/>
<circle cx="553.2" cy="1429.2" r="2.8"/>
</g>
<g fill="#4a72b4">
<circle cx="638.1" cy="1369.1" r="2.8"/>
<circle cx="638.1" cy="1374.8" r="2.8"/>
<circle cx="621.1" cy="1376.6" r="2.8"/>
<circle cx="626.8" cy="1379.3" r="2.8"/>
<circle cx="632.6" cy="1379.3" r="2.8"/>
<circle cx="638.1" cy="1382.3" r="2.8"/>
<circle cx="638.1" cy="1378.6" r="2.8"/>
<circle cx="643.6" cy="1379.3" r="2.8"/>
<circle cx="649.3" cy="1379.3" r="2.8"/>
<circle cx="621.1" cy="1389.3" r="2.8"/>
<circle cx="626.8" cy="1389.3" r="2.8"/>
<circle cx="632.6" cy="1389.3" r="2.8"/>
<circle cx="638.1" cy="1390.6" r="2.8"/>
<circle cx="643.6" cy="1389.3" r="2.8"/>
<circle cx="648.0" cy="1389.3" r="2.8"/>
<circle cx="638.1" cy="1394.3" r="2.8"/>
<circle cx="631.8" cy="1398.0" r="2.8"/>
<circle cx="638.1" cy="1399.8" r="2.8"/>
</g>
<path d="M638.2 1405.1 L641.2 1410.4 L638.2 1415.7 L635.2 1410.4Z" fill="#7c7c7c"/>
<circle cx="638.2" cy="1409.5" r="2.95" fill="#4a72b4"/>
<path d="M638.2 1160.8 L641.2 1166.1 L638.2 1171.4 L635.2 1166.1Z" fill="#7c7c7c"/>
<circle cx="638.2" cy="1165.2" r="2.95" fill="#4a72b4"/>
<path d="M638.2 1201.5 L641.2 1206.8 L638.2 1212.1 L635.2 1206.8Z" fill="#7c7c7c"/>
<circle cx="638.2" cy="1206.0" r="2.95" fill="#4a72b4"/>
<text x="190.23" y="1386.00" font-family='"Liberation Sans", sans-serif' font-size="18.0" fill="#161616" stroke="#161616" stroke-width="0.1" textLength="12.84" lengthAdjust="spacingAndGlyphs">N</text>
<text x="204.74" y="1385.70" font-family='"Liberation Sans", sans-serif' font-size="14.4" fill="#8c8c8c" textLength="14.23" lengthAdjust="spacingAndGlyphs">=</text>
<text x="221.12" y="1386.00" font-family='"Liberation Sans", sans-serif' font-size="18.0" fill="#161616" stroke="#161616" stroke-width="0.1" textLength="19.68" lengthAdjust="spacingAndGlyphs">12</text>
<text x="276.98" y="1364.75" font-family='"Liberation Sans", sans-serif' font-size="18.0" fill="#161616" stroke="#161616" stroke-width="0.1" textLength="12.84" lengthAdjust="spacingAndGlyphs">N</text>
<text x="291.49" y="1364.45" font-family='"Liberation Sans", sans-serif' font-size="14.4" fill="#8c8c8c" textLength="14.23" lengthAdjust="spacingAndGlyphs">=</text>
<text x="307.87" y="1364.75" font-family='"Liberation Sans", sans-serif' font-size="18.0" fill="#161616" stroke="#161616" stroke-width="0.1" textLength="19.68" lengthAdjust="spacingAndGlyphs">12</text>
<text x="360.48" y="1279.25" font-family='"Liberation Sans", sans-serif' font-size="18.0" fill="#161616" stroke="#161616" stroke-width="0.1" textLength="12.51" lengthAdjust="spacingAndGlyphs">N</text>
<text x="374.56" y="1278.95" font-family='"Liberation Sans", sans-serif' font-size="14.4" fill="#8c8c8c" textLength="13.82" lengthAdjust="spacingAndGlyphs">=</text>
<text x="390.45" y="1279.25" font-family='"Liberation Sans", sans-serif' font-size="18.0" fill="#161616" stroke="#161616" stroke-width="0.1" textLength="19.10" lengthAdjust="spacingAndGlyphs">11</text>
<text x="527.98" y="1345.50" font-family='"Liberation Sans", sans-serif' font-size="18.0" fill="#161616" stroke="#161616" stroke-width="0.1" textLength="12.84" lengthAdjust="spacingAndGlyphs">N</text>
<text x="542.49" y="1345.20" font-family='"Liberation Sans", sans-serif' font-size="14.4" fill="#8c8c8c" textLength="14.23" lengthAdjust="spacingAndGlyphs">=</text>
<text x="558.87" y="1345.50" font-family='"Liberation Sans", sans-serif' font-size="18.0" fill="#161616" stroke="#161616" stroke-width="0.1" textLength="19.68" lengthAdjust="spacingAndGlyphs">10</text>
<text x="611.73" y="1155.50" font-family='"Liberation Sans", sans-serif' font-size="18.0" fill="#161616" stroke="#161616" stroke-width="0.1" textLength="12.84" lengthAdjust="spacingAndGlyphs">N</text>
<text x="626.24" y="1155.20" font-family='"Liberation Sans", sans-serif' font-size="14.4" fill="#8c8c8c" textLength="14.23" lengthAdjust="spacingAndGlyphs">=</text>
<text x="642.62" y="1155.50" font-family='"Liberation Sans", sans-serif' font-size="18.0" fill="#161616" stroke="#161616" stroke-width="0.1" textLength="19.68" lengthAdjust="spacingAndGlyphs">19</text>
<text x="210.59" y="1543.20" font-family='"Liberation Sans", sans-serif' font-size="25.2" fill="#161616" stroke="#161616" stroke-width="0.3" textLength="14.57" lengthAdjust="spacingAndGlyphs">4</text>
<text x="289.34" y="1543.20" font-family='"Liberation Sans", sans-serif' font-size="25.2" fill="#161616" stroke="#161616" stroke-width="0.3" textLength="13.32" lengthAdjust="spacingAndGlyphs">8</text>
<text x="368.08" y="1543.20" font-family='"Liberation Sans", sans-serif' font-size="25.2" fill="#161616" stroke="#161616" stroke-width="0.3" textLength="27.33" lengthAdjust="spacingAndGlyphs">16</text>
<text x="460.34" y="1543.20" font-family='"Liberation Sans", sans-serif' font-size="25.2" fill="#161616" stroke="#161616" stroke-width="0.3" textLength="13.32" lengthAdjust="spacingAndGlyphs">4</text>
<text x="547.09" y="1543.20" font-family='"Liberation Sans", sans-serif' font-size="25.2" fill="#161616" stroke="#161616" stroke-width="0.3" textLength="13.07" lengthAdjust="spacingAndGlyphs">8</text>
<text x="625.38" y="1543.20" font-family='"Liberation Sans", sans-serif' font-size="25.2" fill="#161616" stroke="#161616" stroke-width="0.3" textLength="29.28" lengthAdjust="spacingAndGlyphs">16</text>
<line x1="194.50" y1="1549.00" x2="412.25" y2="1549.00" stroke="#111" stroke-width="2.6"/>
<line x1="445.25" y1="1549.00" x2="662.00" y2="1549.00" stroke="#111" stroke-width="2.6"/>
<text x="230.43" y="1575.20" font-family='"Liberation Sans", sans-serif' font-size="25.6" fill="#161616" stroke="#161616" stroke-width="0.3" textLength="172.51" lengthAdjust="spacingAndGlyphs">Melittin (µg/mL)</text>
<text x="469.06" y="1575.20" font-family='"Liberation Sans", sans-serif' font-size="25.6" fill="#161616" stroke="#161616" stroke-width="0.3" textLength="188.13" lengthAdjust="spacingAndGlyphs">pepD2M (µg/mL)</text>
</g>
</svg></body></html>
